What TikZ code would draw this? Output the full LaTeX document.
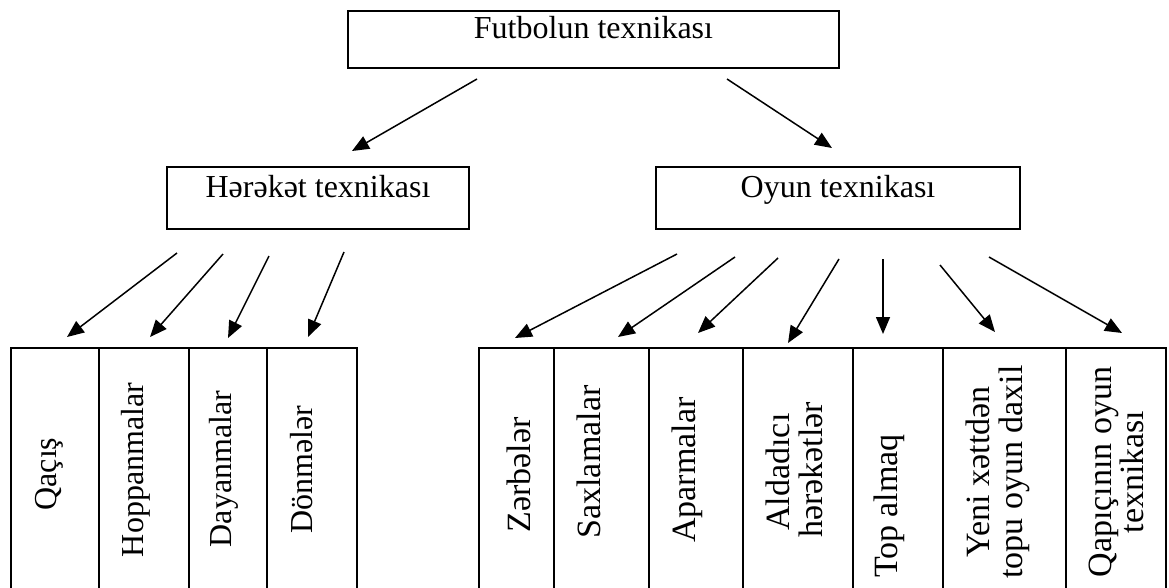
\documentclass[tikz,border=0pt]{standalone}
\usepackage{fontspec}
\setmainfont{Liberation Serif}
\usetikzlibrary{arrows.meta}
\begin{document}
\begin{tikzpicture}[x=1pt,y=-1pt,
 box/.style={draw, line width=2pt, inner sep=0pt, text height=22pt, text depth=24pt, font=\fontsize{32}{38}\selectfont},
 cell/.style={draw, line width=1.8pt, anchor=north west, minimum height=300pt, inner sep=0pt},
 vt/.style={rotate=90, inner sep=0pt, anchor=base, font=\fontsize{32}{38}\selectfont},
 vtr/.style={rotate=90, inner sep=0pt, anchor=base, font=\fontsize{34}{32}\selectfont},
 arr/.style={line width=1.5pt, -{Triangle[length=17pt,width=14pt]}}
]
\clip (0,0) rectangle (1169,587);
\fill[white] (0,0) rectangle (1169,587);
% boxes
\node[box, minimum width=491pt, minimum height=57pt] (top) at (593.5,39.5) {Futbolun texnikası};
\node[box, minimum width=302pt, minimum height=62pt] (her) at (318,198) {Hərəkət texnikası};
\node[box, minimum width=364pt, minimum height=62pt] (oyun) at (838,198) {Oyun texnikası};
% top arrows
\coordinate (t1s) at (477,79); \coordinate (t1e) at (352,151);
\coordinate (t2s) at (727,79); \coordinate (t2e) at (832,148);
\draw[arr] (t1s) -- (t1e);
\draw[arr] (t2s) -- (t2e);
% left cells
\node[cell, minimum width=88pt] (l1) at (10,347) {};
\node[cell, minimum width=90pt] (l2) at (98,347) {};
\node[cell, minimum width=78pt] (l3) at (188,347) {};
\node[cell, minimum width=90pt] (l4) at (266,347) {};
\node[vt] (lt1) at (56,474) {Qaçış};
\node[vt] (lt2) at (143,470) {Hoppanmalar};
\node[vt] (lt3) at (231,469) {Dayanmalar};
\node[vt] (lt4) at (312,470) {Dönmələr};
% left arrows
\coordinate (la1) at (177,253); \coordinate (lb1) at (67,337);
\coordinate (la2) at (223,254); \coordinate (lb2) at (150,337);
\coordinate (la3) at (269,256); \coordinate (lb3) at (228,338);
\coordinate (la4) at (344,252); \coordinate (lb4) at (308,337);
\foreach \i in {1,...,4} \draw[arr] (la\i) -- (lb\i);
% right cells
\node[cell, minimum width=75pt] (r1) at (478,347) {};
\node[cell, minimum width=95pt] (r2) at (553,347) {};
\node[cell, minimum width=94pt] (r3) at (648,347) {};
\node[cell, minimum width=110pt] (r4) at (742,347) {};
\node[cell, minimum width=90pt] (r5) at (852,347) {};
\node[cell, minimum width=123pt] (r6) at (942,347) {};
\node[cell, minimum width=100pt] (r7) at (1065,347) {};
\node[vtr] (rt1) at (530,475) {Zərbələr};
\node[vtr] (rt2) at (600,462) {Saxlamalar};
\node[vtr] (rt3) at (695,470) {Aparmalar};
\node[vtr] (rt4a) at (789,472) {Aldadıcı};
\node[vtr] (rt4b) at (822,470) {hərəkətlər};
\node[vtr] (rt5) at (897,506) {Top almaq};
\node[vtr] (rt6a) at (989,472) {Yeni xəttdən};
\node[vtr] (rt6b) at (1022,472) {topu oyun daxil};
\node[vtr] (rt7a) at (1111,472) {Qapıçının oyun};
\node[vtr] (rt7b) at (1143,472) {texnikası};
% right arrows
\coordinate (ra1) at (677,254); \coordinate (rb1) at (515,338);
\coordinate (ra2) at (735,257); \coordinate (rb2) at (618,337);
\coordinate (ra3) at (778,258); \coordinate (rb3) at (698,333);
\coordinate (ra4) at (839,259); \coordinate (rb4) at (788,343);
\coordinate (ra5) at (883,259); \coordinate (rb5) at (883,334);
\coordinate (ra6) at (940,265); \coordinate (rb6) at (995,332);
\coordinate (ra7) at (989,257); \coordinate (rb7) at (1122,333);
\foreach \i in {1,...,7} \draw[arr] (ra\i) -- (rb\i);
\end{tikzpicture}
\end{document}
